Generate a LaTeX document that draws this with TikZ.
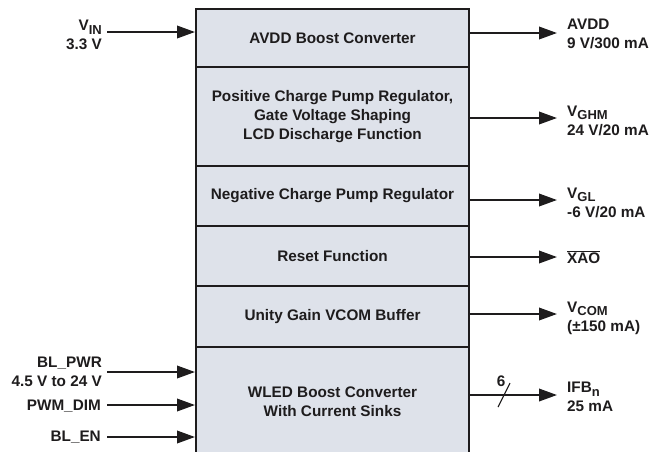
\documentclass[tikz,border=0pt]{standalone}
\usepackage{fontspec}
\setmainfont{Liberation Sans}
\usetikzlibrary{arrows.meta}
\definecolor{boxfill}{RGB}{222,226,234}
\definecolor{ink}{RGB}{30,28,29}
\newcommand{\sbs}[1]{\raisebox{-0.4ex}{\fontsize{13}{13}\selectfont #1}}
\tikzset{
  blk/.style={draw=ink, fill=boxfill, line width=2pt, minimum width=273pt, inner sep=0pt, align=center, text=ink},
  lbl/.style={inner sep=0pt, text=ink},
  arr/.style={draw=ink, line width=2pt, -{Triangle[length=18pt,width=12.5pt]}},
  every node/.style={font=\bfseries\fontsize{15.3}{18.8}\selectfont}
}
\begin{document}
\begin{tikzpicture}[x=1pt,y=-1pt]
\useasboundingbox (0,0) rectangle (658,451);
\begin{scope}
\clip (0,0) rectangle (658,451);
\node[blk, minimum height=58pt] (r1) at (332.5,38) {AVDD Boost Converter};
\node[blk, minimum height=99pt] (r2) at (332.5,116.5) {Positive Charge Pump Regulator,\\Gate Voltage Shaping\\LCD Discharge Function};
\node[blk, minimum height=60pt] (r3) at (332.5,196) {Negative Charge Pump Regulator};
\node[blk, minimum height=60pt] (r4) at (332.5,256) {Reset Function};
\node[blk, minimum height=61pt] (r5) at (332.5,316.5) {Unity Gain VCOM Buffer};
\node[blk, minimum height=110pt] (r6) at (332.5,402) {WLED Boost Converter\\With Current Sinks};
\end{scope}
% left labels
\node[lbl, anchor=east, align=right] (vin) at (102,35) {V\sbs{IN}\\3.3 V};
\node[lbl, anchor=east, align=right] (blpwr) at (102,372) {BL\_PWR\\4.5 V to 24 V};
\node[lbl, anchor=east] (pwm) at (101,406) {PWM\_DIM};
\node[lbl, anchor=east] (blen) at (101,437) {BL\_EN};
\coordinate (vinA) at (107,32);
\coordinate (blpwrA) at (107,372);
\coordinate (pwmA) at (107,405);
\coordinate (blenA) at (107,437);
\draw[arr] (vinA) -- (vinA -| r1.west);
\draw[arr] (blpwrA) -- (blpwrA -| r6.west);
\draw[arr] (pwmA) -- (pwmA -| r6.west);
\draw[arr] (blenA) -- (blenA -| r6.west);
% right labels
\node[lbl, anchor=west, align=left] (avdd) at (567,34) {AVDD\\9 V/300 mA};
\node[lbl, anchor=west, align=left] (vghm) at (567,121) {V\sbs{GHM}\\24 V/20 mA};
\node[lbl, anchor=west, align=left] (vgl) at (567,203) {V\sbs{GL}\\-6 V/20 mA};
\node[lbl, anchor=west] (xao) at (567,257) {$\overline{\mbox{XAO}}$};
\node[lbl, anchor=west, align=left] (vcom) at (567,318) {V\sbs{COM}\\(±150 mA)};
\node[lbl, anchor=west, align=left] (ifb) at (567,397) {IFB\sbs{n}\\25 mA};
\coordinate (avddA) at (557,33);
\coordinate (vghmA) at (557,118);
\coordinate (vglA) at (557,200);
\coordinate (xaoA) at (557,257);
\coordinate (vcomA) at (557,314);
\coordinate (ifbA) at (557,395);
\draw[arr] (avddA -| r1.east) -- (avddA);
\draw[arr] (vghmA -| r2.east) -- (vghmA);
\draw[arr] (vglA -| r3.east) -- (vglA);
\draw[arr] (xaoA -| r4.east) -- (xaoA);
\draw[arr] (vcomA -| r5.east) -- (vcomA);
\draw[arr] (ifbA -| r6.east) -- (ifbA);
% bus slash
\coordinate (s1) at (498,407);
\coordinate (s2) at (510,383);
\draw[draw=ink, line width=1.1pt] (s1) -- (s2);
\node[lbl] (six) at (501,381) {6};
\end{tikzpicture}
\end{document}
